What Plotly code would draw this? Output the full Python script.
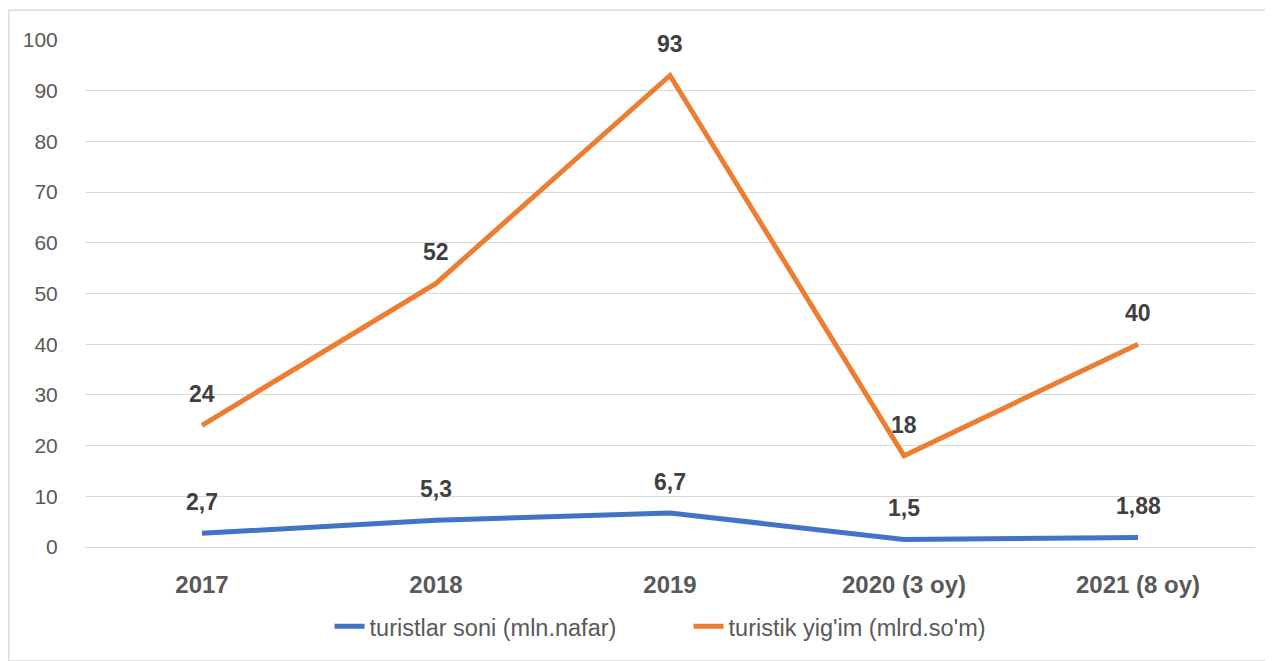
import plotly.graph_objects as go

categories = ["2017", "2018", "2019", "2020 (3 oy)", "2021 (8 oy)"]
tourists = [2.7, 5.3, 6.7, 1.5, 1.88]
tourist_labels = ["2,7", "5,3", "6,7", "1,5", "1,88"]
revenue = [24, 52, 93, 18, 40]
revenue_labels = ["24", "52", "93", "18", "40"]
series_names = ["turistlar soni (mln.nafar)", "turistik yig'im (mlrd.so'm)"]
y_ticks = [0, 10, 20, 30, 40, 50, 60, 70, 80, 90, 100]

FONT = "Liberation Sans, Arial, sans-serif"

fig = go.Figure()
fig.add_trace(go.Scatter(x=categories, y=tourists, mode="lines", name=series_names[0],
                         line=dict(color="#4472C4", width=5), cliponaxis=False))
fig.add_trace(go.Scatter(x=categories, y=revenue, mode="lines", name=series_names[1],
                         line=dict(color="#ED7D31", width=5), cliponaxis=False))

for vals, labs in ((tourists, tourist_labels), (revenue, revenue_labels)):
    for i, (v, t) in enumerate(zip(vals, labs)):
        fig.add_annotation(x=i, y=v, text="<b>%s</b>" % t, showarrow=False,
                           yshift=31, yanchor="middle",
                           font=dict(family=FONT, size=23, color="#404040"))

fig.add_shape(type="rect", xref="paper", yref="paper",
              x0=-0.0650, x1=1.017, y0=-0.225, y1=1.0588,
              line=dict(color="#d9d9d9", width=1.5), layer="below")

fig.update_layout(
    width=1265, height=653,
    margin=dict(l=77, r=18, t=32, b=111),
    paper_bgcolor="white", plot_bgcolor="white",
    font=dict(family=FONT, color="#595959"),
    showlegend=True,
    legend=dict(orientation="h", x=0.209, xanchor="left", y=-0.157, yanchor="middle",
                font=dict(family=FONT, size=23.5, color="#595959"),
                entrywidth=314, entrywidthmode="pixels", tracegroupgap=0),
    xaxis=dict(type="category", range=[-0.5, 4.5], showgrid=False, zeroline=False,
               showline=False, ticks="outside", ticklen=16, tickcolor="rgba(0,0,0,0)",
               tickfont=dict(family=FONT, size=24, color="#595959"),
               tickvals=categories, ticktext=["<b>%s</b>" % c for c in categories]),
    yaxis=dict(range=[0, 100], tickvals=y_ticks, showgrid=True, gridcolor="#d9d9d9",
               gridwidth=1, zeroline=True, zerolinecolor="#d9d9d9", zerolinewidth=1,
               showline=False, ticks="outside", ticklen=22, tickcolor="rgba(0,0,0,0)",
               tickfont=dict(family=FONT, size=21, color="#595959")),
)

fig.write_html("out.html")
